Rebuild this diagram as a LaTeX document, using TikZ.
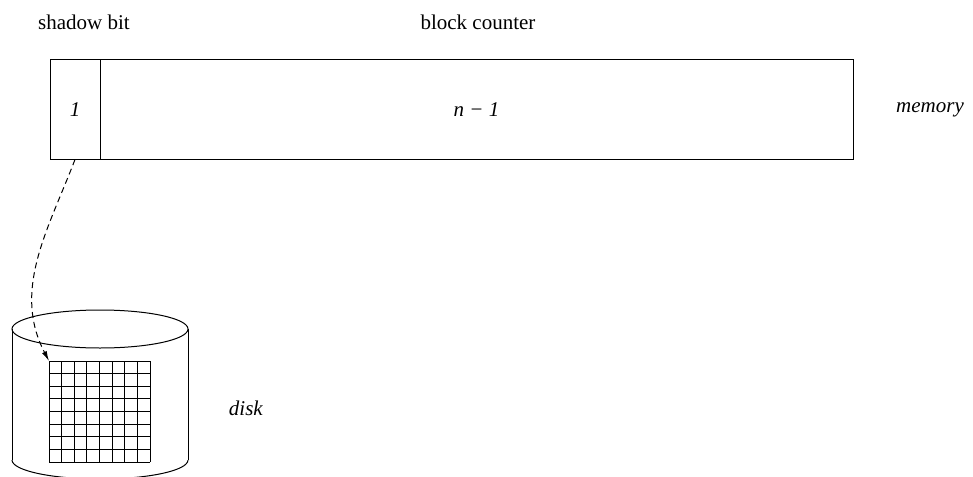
\documentclass[tikz,border=0pt]{standalone}
\usepackage{fontspec}
\setmainfont{Liberation Serif}
\usetikzlibrary{arrows.meta}

\tikzset{
  cell/.style={draw,line width=0.5pt,inner sep=0pt,minimum height=49.5pt},
  lbl/.style={inner sep=0pt,font=\fontsize{10.5}{12.5}\selectfont},
  ptr/.style={dashed,dash pattern=on 3pt off 2pt,line width=0.5pt,-{Latex[length=5pt,width=2.6pt]}}
}

\begin{document}
\begin{tikzpicture}[x=0.5pt,y=-0.5pt,line width=0.5pt]
\useasboundingbox (0,0) rectangle (973,476);
{
\node[lbl] (shadowlbl) at (84,22) {shadow bit};
\node[lbl] (counterlbl) at (478,22) {block counter};
\node[cell,minimum width=25pt] (bit) at (75,109.5) {};
\node[cell,minimum width=376.5pt] (counter) at (476.5,109.5) {};
\node[lbl] at (bit) {\textit{1}};
\node[lbl] at (counter) {\textit{n − 1}};
\node[lbl] (memlbl) at (930,110) {\textit{memory}};
\node[lbl] (disklbl) at (246,408) {\textit{disk}};
}
% disk
\draw (100,329) ellipse [x radius=88, y radius=19];
\draw (12,329) -- (12,460);
\draw (188,329) -- (188,460);
\begin{scope}
\clip (10,460) rectangle (190,500);
\draw (100,460) ellipse [x radius=88, y radius=19];
\end{scope}
\foreach \i in {0,...,8}{
\draw (49+\i*12.625,361) -- ++(0,101);
\draw (49,361+\i*12.625) -- ++(101,0);
}
\coordinate (gridnw) at (49,361);
\draw[ptr] (bit.south) .. controls (48,230) and (12,290) .. (gridnw);
\end{tikzpicture}
\end{document}
